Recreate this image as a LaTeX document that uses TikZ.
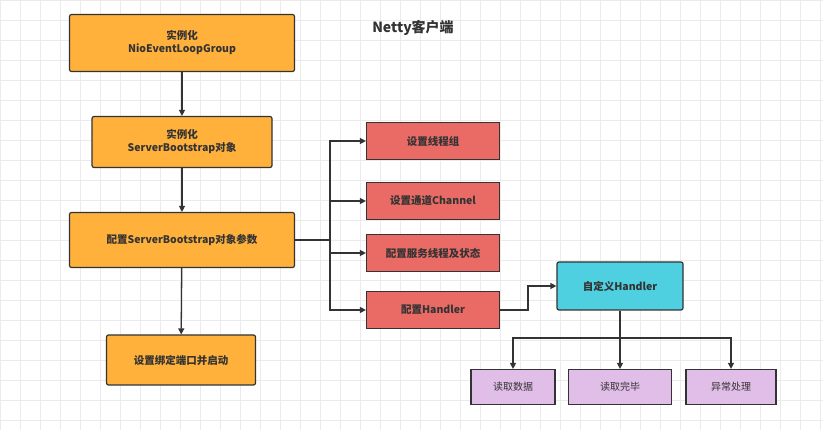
\documentclass[tikz,border=0pt]{standalone}
\usepackage{fontspec}
\setmainfont{Noto Sans CJK SC}
\usetikzlibrary{arrows.meta}
\definecolor{org}{HTML}{FFB13B}
\definecolor{rd}{HTML}{EA6B66}
\definecolor{cy}{HTML}{4ED0E0}
\definecolor{pu}{HTML}{E1BEE7}
\definecolor{ln}{HTML}{333333}
\begin{document}
\begin{tikzpicture}[x=1pt,y=-1pt,
 box/.style={draw=ln,line width=1.2pt,rounded corners=2pt,align=center,font=\bfseries\fontsize{10.5}{13}\selectfont,text=black!80},
 ob/.style={box,fill=org},
 rb/.style={box,fill=rd,rounded corners=0pt,minimum width=133pt,minimum height=37pt},
 pb/.style={box,fill=pu,rounded corners=0pt,font=\fontsize{10}{12}\selectfont,minimum height=35pt},
 ar/.style={draw=ln,line width=1.3pt,-{Triangle[length=6pt,width=6pt]}}]
\useasboundingbox (0,0) rectangle (823,430);
\fill[white] (0,0) rectangle (823,430);
\draw[black!8,line width=0.4pt] (0,0) grid[step=20pt] (823,430);
\node[font=\bfseries\fontsize{14}{16}\selectfont,text=black!80] (t) at (413,28) {Netty客户端};
\node[ob,minimum width=225pt,minimum height=57pt] (a) at (182,43) {实例化\\NioEventLoopGroup};
\node[ob,minimum width=180pt,minimum height=51pt] (b) at (182,142) {实例化\\ServerBootstrap对象};
\node[ob,minimum width=225pt,minimum height=55pt] (c) at (182,240) {配置ServerBootstrap对象参数};
\node[ob,minimum width=149pt,minimum height=50pt] (d) at (181,360) {设置绑定端口并启动};
\node[rb] (r1) at (433,141) {设置线程组};
\node[rb] (r2) at (433,201) {设置通道Channel};
\node[rb] (r3) at (433,253) {配置服务线程及状态};
\node[rb] (r4) at (433,310) {配置Handler};
\node[box,fill=cy,minimum width=126pt,minimum height=48pt] (h) at (620,286) {自定义Handler};
\node[pb,minimum width=84pt] (p1) at (513,387) {读取数据};
\node[pb,minimum width=103pt] (p2) at (620,387) {读取完毕};
\node[pb,minimum width=90pt] (p3) at (731,387) {异常处理};
\coordinate (j) at (330,240);
\coordinate (k) at (528,310);
\coordinate (m) at (620,338);
\draw[ar] (a) -- (b);
\draw[ar] (b) -- (c);
\draw[ar] (c) -- (d);
\draw[draw=ln,line width=1.3pt] (c.east) -- (j);
\foreach \r in {r1,r2,r3,r4} \draw[ar] (j) |- (\r.west);
\draw[ar] (r4.east) -- (k) |- (h.west);
\draw[draw=ln,line width=1.3pt] (h.south) -- (m);
\foreach \p in {p1,p2,p3} \draw[ar] (m) -| (\p.north);
\end{tikzpicture}
\end{document}
